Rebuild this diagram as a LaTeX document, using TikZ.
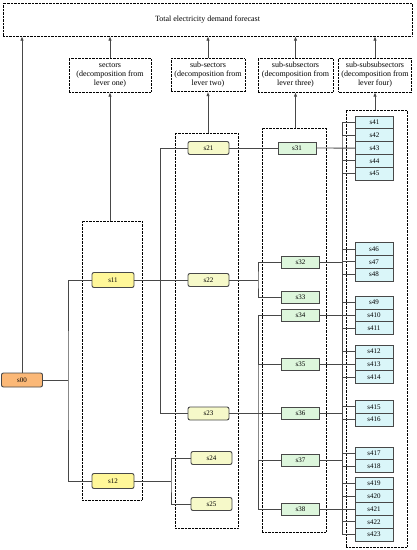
\documentclass[tikz,border=0pt]{standalone}
\usepackage{fontspec}
\setmainfont{Liberation Serif}
\usetikzlibrary{arrows.meta}
\definecolor{rootfill}{HTML}{FBB877}
\definecolor{onefill}{HTML}{FFF799}
\definecolor{twofill}{HTML}{F6F9C9}
\definecolor{threefill}{HTML}{DDF6DC}
\definecolor{fourfill}{HTML}{DAF6F9}
\definecolor{wire}{HTML}{484848}
\tikzset{
  every picture/.style = {
    font=\fontsize{7}{8}\selectfont
  },
  group/.style={
    draw=black,
    densely dotted,
    thin,
    inner sep=0pt
  },
  label/.style={
    group,
    align=center,
    font=\fontsize{8}{9}\selectfont
  },
  level/.style={
    draw=wire,
    line width=0.9pt,
    inner sep=0pt,
    minimum height=13pt
  },
  rootbox/.style={level, fill=rootfill, rounded corners=2pt, minimum width=41pt, minimum height=14pt},
  onebox/.style={level, fill=onefill, rounded corners=2pt, minimum width=42pt, minimum height=15pt},
  twobox/.style={level, fill=twofill, rounded corners=2pt, minimum width=41pt},
  threebox/.style={level, fill=threefill, minimum width=38pt, minimum height=12pt},
  fourbox/.style={level, fill=fourfill, minimum width=38pt, minimum height=12.8pt},
  wireline/.style={draw=wire, line width=0.9pt},
  up/.style={wireline, -{Latex[length=4.5pt,width=3.5pt]}}
}
\begin{document}
\begin{tikzpicture}[x=1pt, y=-1pt]
        \useasboundingbox (0,0) rectangle (417,550);
        % forecast and level labels
        \node[label, minimum width=409pt, minimum height=33pt] (total) at (207.5,19.5) {Total electricity demand forecast};
        \node[label, minimum width=82pt, minimum height=34pt] (lab1) at (110,75) {sectors\\(decomposition from\\lever one)};
        \node[label, minimum width=74pt, minimum height=33pt] (lab2) at (208,75) {sub-sectors\\(decomposition from\\lever two)};
        \node[label, minimum width=75pt, minimum height=34pt] (lab3) at (295.5,75) {sub-subsectors\\(decomposition from\\lever three)};
        \node[label, minimum width=73pt, minimum height=34pt] (lab4) at (375,75) {sub-subsubsectors\\(decomposition from\\lever four)};
        %
        \node[group, minimum width=60pt, minimum height=279pt] (grp1) at (112,360.5) {};
        \node[group, minimum width=63pt, minimum height=395pt] (grp2) at (206.5,330.5) {};
        \node[group, minimum width=64pt, minimum height=404pt] (grp3) at (294,330) {};
        \node[group, minimum width=61pt, minimum height=437pt] (grp4) at (376.5,328.5) {};
        %
        \node[rootbox] (s00) at (22,380) {s00};
        \node[onebox] (s11) at (113,280) {s11};
        \node[onebox] (s12) at (113,481) {s12};
        %
        \node[twobox] (s21) at (208.5,148) {s21};
        \node[twobox] (s22) at (208.5,280) {s22};
        \node[twobox] (s23) at (208.5,413.5) {s23};
        \node[twobox] (s24) at (211.5,458) {s24};
        \node[twobox] (s25) at (211.5,504) {s25};
        %
        \node[threebox] (s31) at (297,148) {s31};
        \node[threebox] (s32) at (300.5,262) {s32};
        \node[threebox] (s33) at (300.5,297.5) {s33};
        \node[threebox] (s34) at (300.5,315) {s34};
        \node[threebox] (s35) at (300.5,364.5) {s35};
        \node[threebox] (s36) at (300.5,413.5) {s36};
        \node[threebox] (s37) at (300.5,460) {s37};
        \node[threebox] (s38) at (300.5,509) {s38};
        %
        \node[fourbox] (s41) at (374.5,122.5) {s41};
        \node[fourbox] (s42) at (374.5,135.3) {s42};
        \node[fourbox] (s43) at (374.5,148.1) {s43};
        \node[fourbox] (s44) at (374.5,160.9) {s44};
        \node[fourbox] (s45) at (374.5,173.7) {s45};
        \node[fourbox] (s46) at (374,249) {s46};
        \node[fourbox] (s47) at (374,261.8) {s47};
        \node[fourbox] (s48) at (374,274.6) {s48};
        \node[fourbox] (s49) at (374,302.7) {s49};
        \node[fourbox] (s410) at (374,315.5) {s410};
        \node[fourbox] (s411) at (374,328.3) {s411};
        \node[fourbox] (s412) at (374,351.7) {s412};
        \node[fourbox] (s413) at (374,364.5) {s413};
        \node[fourbox] (s414) at (374,377.3) {s414};
        \node[fourbox] (s415) at (374,406.9) {s415};
        \node[fourbox] (s416) at (374,419.7) {s416};
        \node[fourbox] (s417) at (374,453.4) {s417};
        \node[fourbox] (s418) at (374,466.2) {s418};
        \node[fourbox] (s419) at (374,483.4) {s419};
        \node[fourbox] (s420) at (374,496.2) {s420};
        \node[fourbox] (s421) at (374,509) {s421};
        \node[fourbox] (s422) at (374,521.8) {s422};
        \node[fourbox] (s423) at (374,534.6) {s423};
        %
        \coordinate (j0) at (68,380);
        \coordinate (j11) at (160.5,280);
        \coordinate (j12) at (171,481);
        \coordinate (j22) at (258,280);
        \coordinate (j23) at (258,413.5);
        \coordinate (j4) at (342,148);
        % arrows up to the forecast
        \draw[up] (s00.north) -- (s00.north |- total.south);
        \draw[up] (lab1.north) -- (lab1.north |- total.south);
        \draw[up] (lab2.north) -- (lab2.north |- total.south);
        \draw[up] (lab3.north) -- (lab3.north |- total.south);
        \draw[up] (lab4.north) -- (lab4.north |- total.south);
        \draw[up] (grp1.north -| lab1.south) -- (lab1.south);
        \draw[up] (grp2.north -| lab2.south) -- (lab2.south);
        \draw[up] (grp3.north -| lab3.south) -- (lab3.south);
        \draw[up] (grp4.north -| lab4.south) -- (lab4.south);
        % tree
        \draw[wireline] (s00.east) -- (j0);
        \draw[wireline] (s11.west) -| (j0) |- (s12.west);
        \draw[wireline] (s11.east) -- (s22.west);
        \draw[wireline] (s21.west) -| (j11) |- (s23.west);
        \draw[wireline] (s12.east) -- (j12);
        \draw[wireline] (s24.west) -| (j12) |- (s25.west);
        %
        \draw[wireline] (s21.east) -- (s31.west);
        \draw[wireline] (s22.east) -- (j22);
        \draw[wireline] (s32.west) -| (j22) |- (s33.west);
        \draw[wireline] (s23.east) -- (s36.west);
        \draw[wireline] (s34.west) -| (j23) |- (s38.west);
        \draw[wireline] (j23 |- s35.west) -- (s35.west);
        \draw[wireline] (j23 |- s37.west) -- (s37.west);
        %
        \draw[wireline] (s31.east) -- (s43.west);
        \draw[wireline] (s41.west) -| (j4) |- (s45.west);
        \draw[wireline] (j4 |- s42.west) -- (s42.west);
        \draw[wireline] (j4 |- s44.west) -- (s44.west);
        \draw[wireline] (s32.east) -- (s32.east -| j4);
        \draw[wireline] (s46.west) -| (j4) |- (s48.west);
        \draw[wireline] (j4 |- s47.west) -- (s47.west);
        \draw[wireline] (s34.east) -- (s34.east -| j4);
        \draw[wireline] (s49.west) -| (j4) |- (s411.west);
        \draw[wireline] (j4 |- s410.west) -- (s410.west);
        \draw[wireline] (s35.east) -- (s35.east -| j4);
        \draw[wireline] (s412.west) -| (j4) |- (s414.west);
        \draw[wireline] (j4 |- s413.west) -- (s413.west);
        \draw[wireline] (s36.east) -- (s36.east -| j4);
        \draw[wireline] (s415.west) -| (j4) |- (s416.west);
        \draw[wireline] (s37.east) -- (s37.east -| j4);
        \draw[wireline] (s417.west) -| (j4) |- (s418.west);
        \draw[wireline] (s38.east) -- (s38.east -| j4);
        \draw[wireline] (s419.west) -| (j4) |- (s423.west);
        \draw[wireline] (j4 |- s420.west) -- (s420.west);
        \draw[wireline] (j4 |- s421.west) -- (s421.west);
        \draw[wireline] (j4 |- s422.west) -- (s422.west);
    \end{tikzpicture}
\end{document}
